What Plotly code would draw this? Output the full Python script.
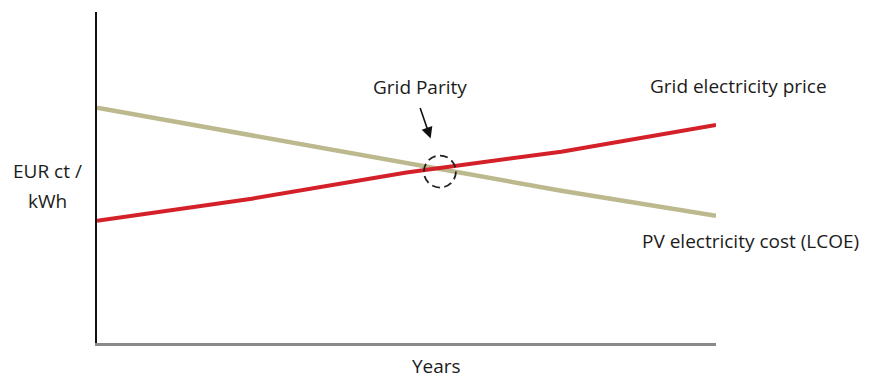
import plotly.graph_objects as go

# Data (schematic, arbitrary units)
years = [0, 2.5, 5, 7.5, 10]
grid_price = [3.69, 4.36, 5.15, 5.78, 6.59]
pv_cost = [7.11, 6.27, 5.43, 4.60, 3.84]
grid_parity_point = (5.54, 5.18)

RED = "#d42129"
KHAKI = "#bdb98e"
FONT = "'Open Sans', Lato, sans-serif"
TXT = "#1b1b1b"

L, R, T, B = 97, 161, 12, 37
W, H = 877, 380
PW, PH = W - L - R, H - T - B

fig = go.Figure()
fig.add_trace(go.Scatter(x=years, y=pv_cost, mode="lines",
                         line=dict(color=KHAKI, width=4.5), hoverinfo="skip",
                         name="PV electricity cost (LCOE)"))
fig.add_trace(go.Scatter(x=years, y=grid_price, mode="lines",
                         line=dict(color=RED, width=4), hoverinfo="skip",
                         name="Grid electricity price"))

# dashed circle at grid parity
cx, cy = grid_parity_point
rx, ry = 16 / (PW / 10), 16 / (PH / 10)
fig.add_shape(type="circle", xref="x", yref="y",
              x0=cx - rx, x1=cx + rx, y0=cy - ry, y1=cy + ry,
              line=dict(color="#222222", width=1.8, dash="8px,4.5px"))

# arrow
fig.add_annotation(x=cx - 0.15, y=cy + 1.0, xref="x", yref="y",
                   ax=-11, ay=-32, axref="pixel", ayref="pixel",
                   text="", showarrow=True, arrowhead=2, arrowsize=1.4,
                   arrowwidth=1.6, arrowcolor="#111111")

def label(text, px, py, size=19):
    fig.add_annotation(x=(px - L) / PW, y=(H - B - py) / PH, xref="paper", yref="paper",
                       text=text, showarrow=False, xanchor="center", yanchor="middle",
                       borderpad=0, font=dict(family=FONT, size=size, color=TXT))

label("Grid Parity", 420, 87)
label("Grid electricity price", 738, 86)
label("PV electricity cost (LCOE)", 750, 241)
label("EUR ct /", 47, 171)
label("kWh", 47, 201)
label("Years", 437, 366)

fig.update_layout(
    width=W, height=H,
    margin=dict(l=L, r=R, t=T, b=B),
    paper_bgcolor="white", plot_bgcolor="white",
    showlegend=False,
    xaxis=dict(range=[0, 10], showgrid=False, zeroline=False, showticklabels=False,
               ticks="", showline=True, linecolor="#8a8a8a", linewidth=3, fixedrange=True),
    yaxis=dict(range=[0, 10], showgrid=False, zeroline=False, showticklabels=False,
               ticks="", showline=True, linecolor="#111111", linewidth=2, fixedrange=True),
)

fig.write_html("out.html")
